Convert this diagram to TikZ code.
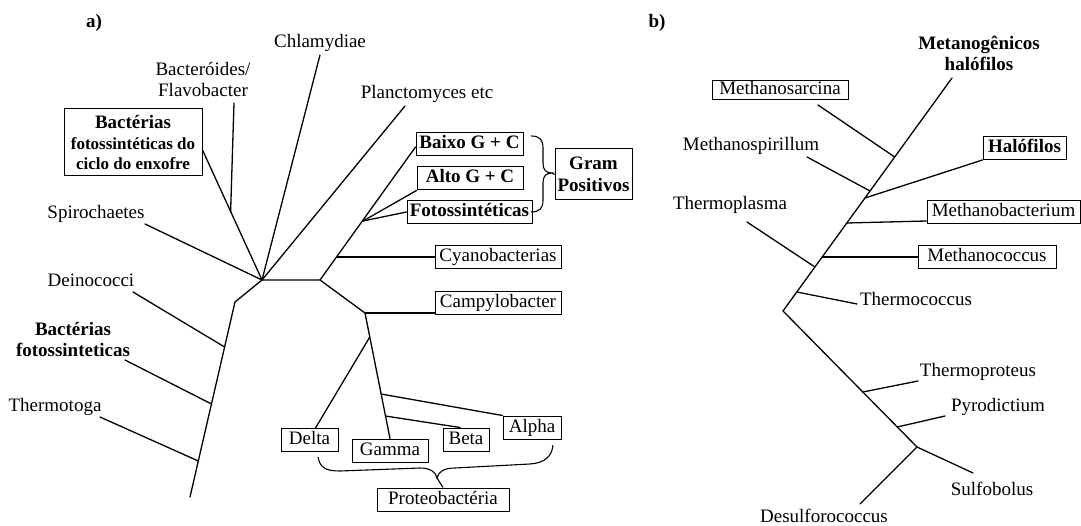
\documentclass[tikz,border=0pt]{standalone}
\usepackage{fontspec}
\setmainfont{Liberation Serif}
\begin{document}
\begin{tikzpicture}[x=1pt,y=-1pt,
  lbl/.style={font=\fontsize{19}{21}\selectfont, inner sep=0pt, text height=13pt, text depth=4pt},
  blbl/.style={lbl, font=\fontsize{19}{21}\selectfont\bfseries},
  mlbl/.style={font=\fontsize{19}{21}\selectfont, inner sep=0pt, align=center},
  bmlbl/.style={mlbl, font=\fontsize{19}{21}\selectfont\bfseries},
  lbox/.style={lbl, draw, line width=1pt, inner xsep=0pt, inner ysep=3pt},
  blbox/.style={lbox, font=\fontsize{19}{21}\selectfont\bfseries},
  branch/.style={line width=1.3pt, line cap=round},
  bracestyle/.style={line width=1.1pt}]
\useasboundingbox (0,0) rectangle (1081,526);

% ---------- a) ----------
\node[blbl] (alab) at (94,23) {a)};
\node[mlbl] (bact) at (203,79) {Bacteróides/\\Flavobacter};
\node[lbl] (chla) at (320,43) {Chlamydiae};
\node[lbl] (planc) at (427,94) {Planctomyces etc};
\node[lbl] (spiro) at (96,214) {Spirochaetes};
\node[lbl] (deino) at (91,282) {Deinococci};
\node[bmlbl] (fotob) at (73,339) {Bactérias\\fotossinteticas};
\node[lbl] (thermo) at (55,407) {Thermotoga};
\node[draw, line width=1pt, inner sep=0pt, minimum width=138pt, minimum height=67pt, align=center,
      font=\fontsize{17}{20.5}\selectfont\bfseries] (sulf) at (133,142.5)
  {{\fontsize{19}{20.5}\selectfont Bactérias}\\fotossintéticas do\\ciclo do enxofre};
\node[blbox, minimum width=107pt] (baixo) at (469.5,144) {Baixo G + C};
\node[blbox, minimum width=106pt] (alto) at (470,178.5) {Alto G + C};
\node[blbox, minimum width=125pt] (fotos) at (469.5,212) {Fotossintéticas};
\node[draw, line width=1pt, inner sep=0pt, minimum width=77pt, minimum height=51pt, align=center,
      font=\fontsize{19}{22}\selectfont\bfseries] (gram) at (593.5,174.5) {Gram\\Positivos};
\node[lbox, minimum width=126pt] (cyano) at (498,257) {Cyanobacterias};
\node[lbox, minimum width=126pt] (campy) at (498,303) {Campylobacter};
\node[lbox, minimum width=57pt] (delta) at (309.5,440) {Delta};
\node[lbox, minimum width=76pt] (gamma) at (390,450.5) {Gamma};
\node[lbox, minimum width=46pt] (beta) at (466,439.5) {Beta};
\node[lbox, minimum width=58pt] (alpha) at (532,427.5) {Alpha};
\node[lbox, minimum width=132pt] (proteo) at (443,499.5) {Proteobactéria};

\coordinate (H) at (262,280);
\coordinate (J1) at (230.6,212);
\coordinate (tBact) at (234,103);
\coordinate (tChla) at (320,55);
\coordinate (tPlanc) at (405,106);
\coordinate (tSpiro) at (145,224);
\coordinate (N1) at (320,280);
\coordinate (G) at (363,221);
\coordinate (Cy) at (337,257);
\coordinate (N2) at (365,313);
\coordinate (Dj) at (369.8,337);
\coordinate (Aj) at (381,394);
\coordinate (Bj) at (385.3,416);
\coordinate (L1) at (235,302);
\coordinate (Lend) at (190,497);
\coordinate (Dei) at (224.6,347);
\coordinate (Bfj) at (211.5,404);
\coordinate (Tj) at (198.3,461);
\coordinate (tDei) at (133,292);
\coordinate (tBf) at (125,360);
\coordinate (tTh) at (100,417);

\draw[branch] ([yshift=-7.5pt]sulf.east) -- (H);
\draw[branch] (tBact) -- (J1);
\draw[branch] (tChla) -- (H);
\draw[branch] (tPlanc) -- (H);
\draw[branch] (tSpiro) -- (H);
\draw[branch] (H) -- (N1) -- ([yshift=-3pt]baixo.west);
\draw[branch] (G) -- (alto.south west);
\draw[branch] (G) -- (fotos.west);
\draw[branch] (Cy) -- (cyano.west);
\draw[branch] (N1) -- (N2) -- (gamma.north);
\draw[branch] (N2) -- (N2 -| campy.west);
\draw[branch] (Dj) -- ([xshift=6pt]delta.north);
\draw[branch] (Aj) -- (alpha.north west);
\draw[branch] (Bj) -- ([xshift=-6pt]beta.north);
\draw[branch] (H) -- (L1) -- (Lend);
\draw[branch] (Dei) -- (tDei);
\draw[branch] (Bfj) -- (tBf);
\draw[branch] (Tj) -- (tTh);

% Gram brace
\coordinate (gtip) at (552,173);
\draw[bracestyle] (531,136) .. controls (540,136) and (543,140) .. (543,148) -- (543,163)
  .. controls (543,170) and (546,173) .. (gtip)
  .. controls (546,173) and (543,176) .. (543,183) -- (543,200)
  .. controls (543,208) and (540,212) .. (531,212);
\draw[bracestyle] (gtip) -- (gram.west);

% Proteobacteria brace
\coordinate (ptip) at (437,478);
\draw[bracestyle] (318,457) .. controls (320,468) and (326,471) .. (340,471) -- (420,468)
  .. controls (430,468) and (436,472) .. (ptip)
  .. controls (438,472) and (444,468) .. (455,468) -- (530,464)
  .. controls (545,463) and (552,456) .. (553,445);
\draw[bracestyle] (ptip) -- (proteo.north);

% ---------- b) ----------
\node[blbl] (blab) at (657,23) {b)};
\node[bmlbl] (metan) at (979,53) {Metanogênicos\\halófilos};
\node[lbox, inner ysep=1pt, minimum width=136pt] (msarc) at (780,90) {Methanosarcina};
\node[lbl] (mspir) at (751,146) {Methanospirillum};
\node[blbox, minimum width=83pt] (halo) at (1024.5,148) {Halófilos};
\node[lbox, minimum width=153pt] (mbact) at (1003.5,212) {Methanobacterium};
\node[lbl] (tplas) at (730,205) {Thermoplasma};
\node[lbox, minimum width=138pt] (mcocc) at (987,257) {Methanococcus};
\node[lbl] (tcocc) at (916,301) {Thermococcus};
\node[lbl] (tprot) at (978,372) {Thermoproteus};
\node[lbl] (pyro) at (998,407) {Pyrodictium};
\node[lbl] (sulfo) at (992,491) {Sulfobolus};
\node[lbl] (desul) at (824,518) {Desulforococcus};

\coordinate (T) at (952,78);
\coordinate (R) at (783,311);
\coordinate (jSarc) at (894.7,157);
\coordinate (jSpir) at (870,191);
\coordinate (jHalo) at (865,198);
\coordinate (jBact) at (846.8,223);
\coordinate (jCocc) at (822.2,257);
\coordinate (jPlas) at (814.9,267);
\coordinate (jTcoc) at (796.8,292);
\coordinate (tSarc) at (818,105);
\coordinate (tSpir) at (807,157);
\coordinate (tPlas) at (747,222);
\coordinate (tTcoc) at (857,304);
\coordinate (S) at (917,447);
\coordinate (jProt) at (862.8,392);
\coordinate (jPyro) at (897.3,427);
\coordinate (tProt) at (918,381);
\coordinate (tPyro) at (945,416);
\coordinate (tSulf) at (973,473);
\coordinate (tDes) at (860,504);

\draw[branch] (T) -- (R) -- (S);
\draw[branch] (jSarc) -- (tSarc);
\draw[branch] (jSpir) -- (tSpir);
\draw[branch] (jHalo) -- (halo.south west);
\draw[branch] (jBact) -- ([yshift=3pt]mbact.south west);
\draw[branch] (jCocc) -- (mcocc.west);
\draw[branch] (jPlas) -- (tPlas);
\draw[branch] (jTcoc) -- (tTcoc);
\draw[branch] (jProt) -- (tProt);
\draw[branch] (jPyro) -- (tPyro);
\draw[branch] (S) -- (tSulf);
\draw[branch] (S) -- (tDes);
\end{tikzpicture}
\end{document}
